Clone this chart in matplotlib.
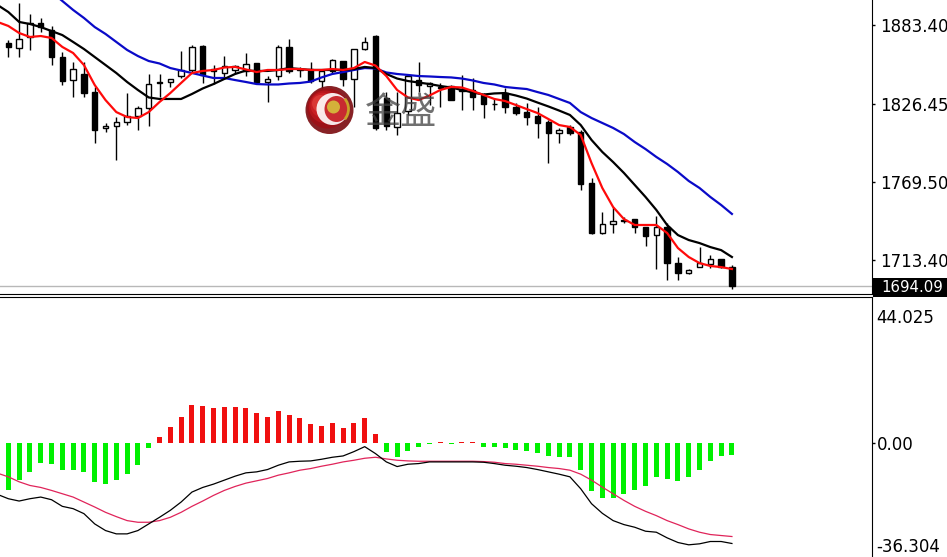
import numpy as np
import matplotlib
matplotlib.use("Agg")
import matplotlib.pyplot as plt
from matplotlib.patches import Rectangle, Ellipse, Arc

# daily candles, oldest first
opens = [1870.6, 1866.7, 1874.7, 1884.9, 1879.8, 1860.2, 1843.5, 1847.9, 1834.8, 1808.5,
         1810.2, 1813.1, 1817.4, 1823.2, 1842.1, 1842.1, 1846.4, 1850.8, 1868.2, 1851.2,
         1848.6, 1850.8, 1850.1, 1855.9, 1842.1, 1846.4, 1867.5, 1850.8, 1851.5, 1842.8,
         1850.1, 1857.3, 1844.3, 1866.0, 1875.4, 1830.5, 1809.5, 1821.1, 1843.5, 1839.2,
         1838.5, 1839.2, 1836.7, 1836.3, 1832.7, 1826.5, 1834.1, 1824.0, 1820.3, 1817.4,
         1813.1, 1805.1, 1809.5, 1805.9, 1768.9, 1732.7, 1739.2, 1741.8, 1742.8, 1737.0,
         1731.2, 1737.0, 1710.9, 1703.7, 1708.0, 1710.2, 1713.8, 1708.0]
highs = [1872.5, 1899.3, 1891.4, 1888.5, 1882.7, 1863.8, 1856.6, 1856.6, 1838.5, 1812.4,
         1816.7, 1834.1, 1824.7, 1847.9, 1847.9, 1844.3, 1864.5, 1868.9, 1868.9, 1854.4,
         1860.9, 1854.4, 1863.1, 1855.9, 1846.4, 1868.9, 1873.3, 1853.0, 1856.6, 1850.1,
         1858.8, 1857.3, 1866.0, 1874.7, 1876.1, 1834.8, 1834.8, 1847.9, 1856.6, 1842.1,
         1841.4, 1839.9, 1847.2, 1845.0, 1834.1, 1830.5, 1837.7, 1826.9, 1826.9, 1824.0,
         1814.5, 1808.8, 1810.9, 1807.3, 1772.5, 1747.9, 1751.5, 1744.3, 1742.8, 1737.0,
         1745.0, 1740.0, 1715.3, 1706.6, 1722.5, 1716.7, 1713.8, 1709.5]
lows = [1860.2, 1860.2, 1865.3, 1878.3, 1854.4, 1839.9, 1831.2, 1831.2, 1797.9, 1805.9,
        1785.6, 1810.9, 1807.3, 1810.2, 1831.2, 1838.5, 1845.0, 1848.6, 1841.4, 1840.6,
        1844.3, 1848.6, 1846.4, 1841.4, 1827.6, 1843.5, 1848.6, 1845.7, 1841.4, 1837.7,
        1848.6, 1839.2, 1824.0, 1865.3, 1807.3, 1807.3, 1803.7, 1818.2, 1834.8, 1825.4,
        1824.0, 1829.0, 1821.8, 1821.8, 1816.0, 1821.8, 1819.6, 1818.2, 1810.9, 1801.5,
        1783.4, 1797.9, 1803.7, 1763.8, 1731.9, 1731.9, 1732.7, 1740.0, 1732.7, 1723.3,
        1706.6, 1698.6, 1698.6, 1703.0, 1708.0, 1707.3, 1707.3, 1692.1]
closes = [1867.7, 1873.3, 1884.9, 1881.9, 1860.2, 1842.8, 1851.5, 1834.1, 1807.3, 1810.4,
          1813.1, 1817.4, 1823.2, 1840.6, 1841.4, 1844.3, 1850.8, 1867.5, 1847.2, 1850.4,
          1853.7, 1853.7, 1855.1, 1842.1, 1844.3, 1867.5, 1850.1, 1851.5, 1842.8, 1850.1,
          1858.0, 1844.3, 1866.0, 1871.1, 1808.8, 1810.2, 1819.6, 1846.4, 1839.9, 1841.4,
          1837.7, 1829.0, 1835.9, 1831.2, 1826.1, 1825.8, 1824.0, 1819.6, 1816.7, 1812.4,
          1805.1, 1807.3, 1805.1, 1768.2, 1732.7, 1739.2, 1741.4, 1741.1, 1737.0, 1730.5,
          1737.0, 1710.9, 1703.7, 1705.9, 1710.9, 1713.8, 1708.0, 1694.09]

# moving averages, first value belongs to the bar before the first visible candle
ma_red = [1885.6, 1882.7, 1877.6, 1874.7, 1875.4, 1874.0, 1867.5, 1863.1, 1854.4, 1839.9,
          1829.0, 1820.3, 1816.7, 1816.0, 1820.3, 1827.6, 1834.1, 1841.4, 1848.6, 1850.1,
          1850.8, 1852.6, 1853.0, 1851.2, 1849.3, 1850.8, 1850.8, 1851.5, 1851.5, 1850.8,
          1850.8, 1851.5, 1850.8, 1852.2, 1856.6, 1854.0, 1846.4, 1836.3, 1830.9, 1829.0,
          1832.3, 1836.3, 1838.5, 1838.1, 1835.6, 1832.7, 1829.8, 1828.3, 1825.4, 1822.5,
          1819.6, 1815.3, 1810.9, 1809.5, 1803.7, 1783.4, 1765.3, 1751.5, 1742.8, 1738.5,
          1738.5, 1738.5, 1732.7, 1721.8, 1715.3, 1710.9, 1708.8, 1708.0, 1706.6]
ma_black = [1897.9, 1892.8, 1885.6, 1884.1, 1881.9, 1879.0, 1876.1, 1871.1, 1866.0, 1860.2,
            1854.4, 1848.6, 1842.1, 1836.3, 1830.9, 1829.8, 1829.8, 1829.8, 1833.4, 1837.4,
            1840.6, 1844.3, 1847.9, 1850.4, 1850.1, 1850.1, 1850.8, 1852.2, 1851.5, 1850.8,
            1850.8, 1850.8, 1850.8, 1851.5, 1853.0, 1852.2, 1847.9, 1844.6, 1842.8, 1841.7,
            1840.6, 1839.2, 1838.1, 1836.3, 1834.5, 1833.0, 1833.8, 1834.1, 1832.3, 1830.1,
            1827.2, 1824.4, 1821.4, 1818.2, 1810.9, 1800.1, 1791.4, 1784.1, 1776.2, 1767.5,
            1758.8, 1749.4, 1738.5, 1731.2, 1727.6, 1725.4, 1722.5, 1720.3, 1715.3]
ma_blue = [np.nan, np.nan, np.nan, np.nan, np.nan, 1907.3, 1900.8, 1894.3, 1888.5, 1881.9,
           1876.9, 1871.1, 1865.3, 1860.9, 1857.3, 1855.5, 1852.2, 1850.4, 1848.6, 1846.8,
           1845.0, 1845.0, 1843.5, 1842.1, 1840.6, 1840.3, 1840.3, 1841.0, 1841.4, 1842.4,
           1845.4, 1847.9, 1849.3, 1850.8, 1852.2, 1851.9, 1849.0, 1847.9, 1847.2, 1846.4,
           1846.1, 1845.7, 1845.4, 1844.6, 1843.2, 1841.4, 1840.3, 1838.5, 1837.7, 1837.0,
           1834.8, 1832.7, 1829.8, 1826.9, 1820.3, 1816.0, 1812.4, 1808.8, 1804.4, 1798.6,
           1793.5, 1787.8, 1782.7, 1776.9, 1770.4, 1765.3, 1758.8, 1753.0, 1746.5]

# MACD panel
macd_hist = [-14.1, -11.2, -8.7, -6.0, -6.4, -8.2, -8.0, -8.7, -11.7, -12.4,
             -11.2, -9.4, -6.7, -1.6, 1.9, 4.9, 7.8, 11.5, 11.2, 10.5,
             10.8, 10.8, 10.7, 9.0, 7.8, 9.7, 8.5, 7.5, 5.8, 5.2,
             6.0, 4.5, 6.0, 7.5, 2.7, -2.6, -4.2, -2.3, -1.1, -0.3,
             0.3, -0.2, 0.3, 0.3, -1.1, -1.1, -1.6, -2.1, -2.3, -2.9,
             -3.9, -4.2, -4.2, -8.2, -14.5, -16.5, -16.5, -15.5, -14.1, -13.1,
             -10.4, -11.0, -11.4, -10.4, -8.2, -5.4, -3.9, -3.6]
macd_line = [-15.5, -16.8, -17.5, -16.8, -16.3, -17.1, -19.1, -19.8, -21.3, -24.4,
             -26.4, -27.4, -27.4, -26.4, -24.4, -22.4, -20.3, -17.8, -14.8, -13.4,
             -12.4, -11.2, -10.0, -9.0, -8.7, -8.0, -6.7, -5.7, -5.5, -5.4,
             -4.9, -4.3, -3.9, -2.6, -1.1, -3.2, -5.7, -7.1, -6.4, -6.2,
             -5.7, -5.7, -5.7, -5.7, -5.7, -5.8, -6.2, -6.7, -7.0, -7.4,
             -8.0, -8.7, -9.4, -10.2, -13.8, -18.3, -21.2, -23.4, -24.6, -25.4,
             -26.6, -26.9, -28.6, -30.0, -30.7, -30.4, -29.7, -29.7, -30.3]
macd_signal = [-9.1, -10.2, -11.7, -12.8, -13.4, -14.3, -15.3, -16.3, -17.8, -19.3,
               -20.9, -22.2, -23.4, -23.9, -23.9, -23.4, -22.4, -20.9, -19.1, -17.5,
               -15.8, -14.3, -13.1, -12.1, -11.4, -10.7, -9.7, -9.0, -8.2, -7.7,
               -7.0, -6.4, -5.7, -5.2, -4.6, -4.3, -4.8, -5.2, -5.4, -5.5,
               -5.5, -5.5, -5.5, -5.5, -5.5, -5.6, -5.8, -6.2, -6.4, -6.7,
               -7.0, -7.4, -7.7, -8.2, -9.4, -11.2, -13.3, -15.3, -17.3, -19.1,
               -20.6, -21.9, -23.4, -24.6, -25.9, -26.9, -27.6, -27.9, -28.2]

price_ticks = [1713.40, 1769.50, 1826.45, 1883.40]
last_price = 1694.09
macd_max, macd_min = 44.025, -36.304

W, H = 947, 557
fig = plt.figure(figsize=(W / 100, H / 100), dpi=100)
fig.patch.set_facecolor("white")

ax = fig.add_axes([0, 1 - 294 / H, 872 / W, 294 / H])
ax2 = fig.add_axes([0, 1 - 563.4 / H, 872 / W, (563.4 - 297) / H])

n = len(opens)
idx = np.arange(n)
xl = np.arange(-1, n)

# candles
for i in idx:
    o, hi, lo, c = opens[i], highs[i], lows[i], closes[i]
    ax.vlines(i, lo, hi, color="black", lw=1, zorder=2)
    fill = "white" if c >= o else "black"
    ax.add_patch(Rectangle((i - 0.25, min(o, c)), 0.5, abs(c - o),
                           facecolor=fill, edgecolor="black", lw=1, zorder=3))

ax.plot(xl, ma_blue, color="#0a0ac8", lw=1.6, zorder=4)
ax.plot(xl, ma_black, color="black", lw=1.6, zorder=4)
ax.plot(xl, ma_red, color="#ff0a0a", lw=1.6, zorder=5)
ax.axhline(last_price, color="#b8b8b8", lw=1, zorder=1)

ax.set_xlim(-0.77, 79.97)
ax.set_ylim(1688.5, 1901.5)
for s in ["left", "top"]:
    ax.spines[s].set_visible(False)
ax.set_xticks([])
ax.yaxis.tick_right()
ax.set_yticks(price_ticks)
ax.set_yticklabels([f"{t:.2f}" for t in price_ticks])
ax.tick_params(axis="y", length=2.5, width=1, pad=3, labelsize=12)

# MACD
colors = ["#f01010" if v > 0 else "#00f000" for v in macd_hist]
ax2.bar(idx, macd_hist, width=0.46, color=colors, zorder=2)
ax2.plot(xl, macd_signal, color="#e0245a", lw=0.9, zorder=3)
ax2.plot(xl, macd_line, color="black", lw=0.9, zorder=4)
ax2.set_xlim(-0.77, 79.97)
ax2.set_ylim(macd_min, macd_max)
for s in ["left", "bottom"]:
    ax2.spines[s].set_visible(False)
ax2.set_xticks([])
ax2.yaxis.tick_right()
ax2.set_yticks([0])
ax2.set_yticklabels(["0.00"])
ax2.tick_params(axis="y", length=2.5, width=1, pad=1, labelsize=12)

fig.text(876 / W, 1 - 318 / H, f"{macd_max:.3f}", fontsize=12, ha="left", va="center")
fig.text(876 / W, 1 - 547 / H, f"{macd_min:.3f}", fontsize=12, ha="left", va="center")

# current price tag
fig.patches.append(Rectangle((873 / W, 1 - 297 / H), 80 / W, 19 / H,
                             transform=fig.transFigure, facecolor="black", zorder=5))
fig.text(881 / W, 1 - 287.5 / H, f"{last_price:.2f}", fontsize=10.8, color="white",
         ha="left", va="center", zorder=6)

# watermark logo
cx, cy, r = 329.5, 110, 24
for k, col in enumerate(["#7a0a0e", "#9e1016", "#b8161c", "#cc2024", "#dc3a38"]):
    rr = r * (1 - 0.16 * k)
    ox, oy = -2.2 * k, -1.6 * k
    fig.patches.append(Ellipse(((cx + ox) / W, 1 - (cy + oy) / H), 2 * rr / W, 2 * rr / H,
                               transform=fig.transFigure, facecolor=col, alpha=0.9, zorder=7))
fig.patches.append(Ellipse(((cx + 3) / W, 1 - (cy - 1) / H), 32 / W, 32 / H,
                           transform=fig.transFigure, facecolor="white", alpha=0.9, zorder=8))
fig.patches.append(Ellipse(((cx + 7) / W, 1 - (cy - 1) / H), 24 / W, 26 / H,
                           transform=fig.transFigure, facecolor="#c4161c", alpha=0.9, zorder=8))
fig.patches.append(Arc(((cx + 3) / W, 1 - (cy - 1) / H), 32 / W, 32 / H, theta1=-55, theta2=55,
                       transform=fig.transFigure, color="#c9a227", lw=2, zorder=9))
fig.patches.append(Ellipse(((cx + 4) / W, 1 - (cy - 3) / H), 13 / W, 13 / H,
                           transform=fig.transFigure, facecolor="#d4b13a", zorder=9))
fig.text(401 / W, 1 - 113 / H, "金盛", fontsize=26, color="#404040", alpha=0.75,
         family=["Noto Sans CJK SC", "DejaVu Sans"], ha="center", va="center", zorder=9)

fig.savefig("out.png", dpi=100, facecolor="white")
